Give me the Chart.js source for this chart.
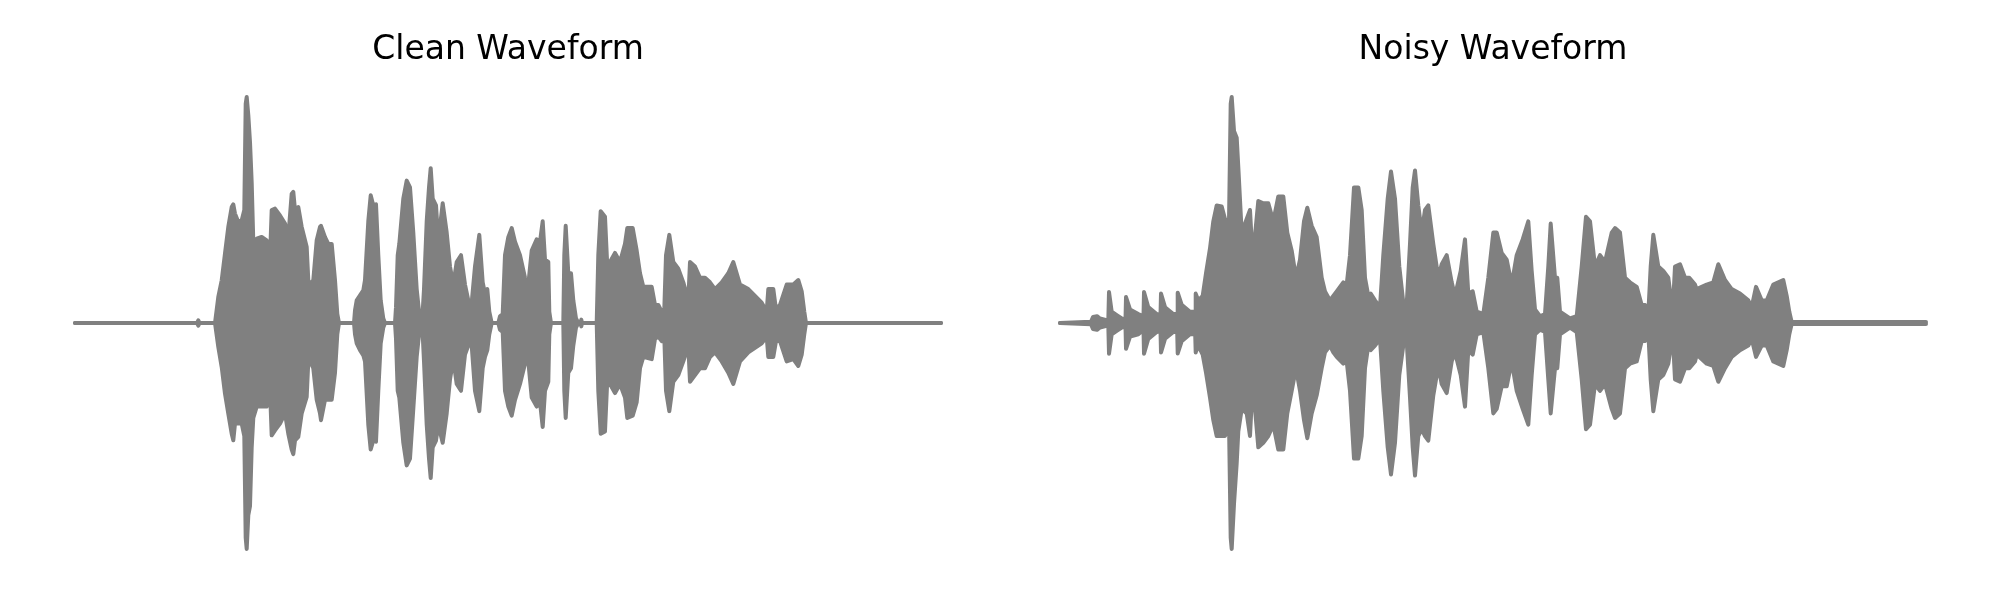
<!DOCTYPE html>
<html>
<head>
<meta charset="utf-8">
<title>Clean vs Noisy Waveform</title>
<script src="https://cdn.jsdelivr.net/npm/chart.js@4.4.1/dist/chart.umd.min.js"></script>
<style>
  html, body { margin: 0; padding: 0; background: #fff; }
  #wrap { position: relative; width: 2000px; height: 600px; }
  canvas { position: absolute; top: 0; }
  #clean { left: 0; }
  #noisy { left: 1000px; }
</style>
</head>
<body>
<div id="wrap">
  <canvas id="clean" width="1000" height="600"></canvas>
  <canvas id="noisy" width="1000" height="600"></canvas>
</div>
<script>
// Waveform envelopes: frame index, upper and lower amplitude (normalised)
const WAVE_GRAY = '#808080';
const FRAME_MAX = 866;

const cleanT = [
  0, 122, 123.3, 124.5, 140, 143.3, 146.7, 150, 153.3, 156.7,
  158.3, 160, 163.3, 166.7, 169.3, 170.7, 171.7, 173.3, 175, 176.7,
  178.3, 181.7, 186.7, 191.7, 194.3, 196.7, 200, 205, 210, 213.3,
  216.7, 218.3, 220, 223.3, 226.7, 231.7, 233.3, 235, 238.3, 241.7,
  245, 246, 250, 253.3, 256.7, 260, 262.3, 264, 279, 280,
  281.7, 285, 288.3, 290, 293.3, 295.7, 298.3, 301, 303.3, 305.7,
  308.3, 310, 320, 321, 322.7, 324.3, 328.3, 331.7, 335, 338.3,
  341.7, 344.3, 345.7, 347.7, 349, 351.7, 354, 355.7, 357.7, 361,
  363.3, 367.7, 371.7, 375, 378.3, 381.7, 386, 390, 393.3, 396.7,
  400, 404.3, 407.7, 410, 412.3, 414.3, 416.7, 423.3, 425, 427.7,
  430, 433.3, 436.7, 440, 445, 450, 453.3, 456.7, 461.7, 465,
  467.7, 470, 473.3, 474.3, 476, 488.3, 489.3, 490.7, 493.3, 496,
  498.3, 501, 503.3, 505.5, 506.3, 507, 521.7, 523.3, 525.7, 530,
  532.3, 535, 540, 545, 550, 552.3, 557.7, 561.7, 565, 568.3,
  576.7, 580, 583.3, 586.7, 589, 591, 594.3, 598.3, 603.3, 608.3,
  613.3, 615, 620, 625, 630, 635, 640, 646.7, 653.3, 658.3,
  665, 673.3, 680, 686.7, 691.7, 693.3, 698.3, 701, 705, 711.7,
  718.3, 723.3, 726.7, 729.3, 731, 866
];
const cleanUpper = [
  0, 0, 0.012, 0, 0, 0.115, 0.189, 0.307, 0.425, 0.513,
  0.525, 0.484, 0.447, 0.454, 0.5, 0.97, 1.0, 0.92, 0.8, 0.62,
  0.36, 0.373, 0.381, 0.366, 0.204, 0.5, 0.506, 0.476, 0.44, 0.38,
  0.572, 0.58, 0.5, 0.513, 0.425, 0.336, 0.19, 0.17, 0.19, 0.366,
  0.425, 0.43, 0.38, 0.35, 0.35, 0.19, 0.04, 0, 0, 0.056,
  0.1, 0.122, 0.145, 0.19, 0.45, 0.565, 0.52, 0.525, 0.3, 0.1,
  0.02, 0, 0, 0.07, 0.3, 0.35, 0.55, 0.63, 0.6, 0.4,
  0.15, 0.04, 0, 0.05, 0.15, 0.45, 0.6, 0.685, 0.55, 0.52,
  0.36, 0.53, 0.4, 0.25, 0.17, 0.27, 0.3, 0.17, 0.1, 0.09,
  0.25, 0.39, 0.18, 0.13, 0.15, 0.05, 0, 0, 0.03, 0.04,
  0.3, 0.38, 0.42, 0.36, 0.3, 0.2, 0.17, 0.32, 0.37, 0.36,
  0.45, 0.28, 0.27, 0.05, 0, 0, 0.3, 0.43, 0.22, 0.22,
  0.1, 0.02, 0, 0, 0.015, 0, 0, 0.3, 0.495, 0.47,
  0.25, 0.27, 0.31, 0.27, 0.35, 0.42, 0.42, 0.32, 0.22, 0.16,
  0.16, 0.08, 0.08, 0.05, 0.02, 0.3, 0.39, 0.27, 0.24, 0.18,
  0.1, 0.27, 0.25, 0.2, 0.2, 0.18, 0.15, 0.18, 0.22, 0.27,
  0.17, 0.15, 0.12, 0.09, 0.05, 0.15, 0.15, 0.06, 0.08, 0.17,
  0.17, 0.19, 0.14, 0.05, 0, 0
];
const cleanLower = [
  0, 0, -0.012, 0, 0, -0.106, -0.195, -0.313, -0.401, -0.49,
  -0.519, -0.445, -0.445, -0.445, -0.5, -0.95, -1.0, -0.85, -0.81, -0.55,
  -0.42, -0.37, -0.37, -0.37, -0.21, -0.497, -0.475, -0.445, -0.4, -0.49,
  -0.56, -0.58, -0.52, -0.504, -0.4, -0.327, -0.17, -0.17, -0.2, -0.34,
  -0.4, -0.43, -0.34, -0.34, -0.34, -0.22, -0.05, 0, 0, -0.05,
  -0.09, -0.12, -0.143, -0.17, -0.45, -0.56, -0.52, -0.525, -0.3, -0.09,
  -0.02, 0, 0, -0.07, -0.3, -0.33, -0.53, -0.63, -0.6, -0.38,
  -0.15, -0.04, 0, -0.05, -0.17, -0.45, -0.6, -0.686, -0.55, -0.52,
  -0.45, -0.53, -0.4, -0.25, -0.16, -0.27, -0.3, -0.14, -0.1, -0.1,
  -0.3, -0.39, -0.2, -0.15, -0.12, -0.05, 0, 0, -0.03, -0.04,
  -0.3, -0.37, -0.41, -0.34, -0.27, -0.18, -0.17, -0.33, -0.37, -0.35,
  -0.46, -0.3, -0.26, -0.05, 0, 0, -0.3, -0.42, -0.22, -0.2,
  -0.1, -0.02, 0, 0, -0.015, 0, 0, -0.3, -0.49, -0.48,
  -0.25, -0.27, -0.31, -0.27, -0.33, -0.42, -0.41, -0.35, -0.2, -0.15,
  -0.16, -0.07, -0.06, -0.08, -0.02, -0.3, -0.39, -0.26, -0.23, -0.17,
  -0.1, -0.26, -0.23, -0.2, -0.2, -0.15, -0.13, -0.17, -0.22, -0.27,
  -0.17, -0.13, -0.11, -0.09, -0.06, -0.15, -0.15, -0.08, -0.08, -0.17,
  -0.16, -0.19, -0.14, -0.05, 0, 0
];

const noisyT = [
  0, 31, 33, 37, 40, 48.3, 49, 51.7, 56.7, 61.7,
  65.5, 66, 70, 78.3, 83.5, 84, 88.3, 96.7, 100.5, 101,
  105, 113.3, 117.2, 117.7, 121.7, 130, 135.2, 135.7, 138.3, 142.7,
  146, 150, 153.3, 156.7, 161.7, 165, 169, 170.7, 171.7, 174,
  176.7, 178.3, 181.7, 186.7, 190, 192.7, 198.3, 203.3, 208.3, 213.3,
  218.3, 223.3, 227.3, 231.7, 236, 240, 244, 247.3, 251.7, 256.7,
  261.7, 265, 270, 273.3, 276.7, 283.3, 286.7, 290, 294, 298.3,
  301.7, 305, 308.3, 310.7, 315, 320, 323.3, 327.7, 331, 335,
  339.3, 343.3, 346.7, 350, 352.7, 355, 358.3, 361.7, 365, 368.3,
  373.3, 378.3, 381.7, 386.7, 391.7, 395, 400.7, 405, 408.3, 412.7,
  416.7, 423.3, 428.3, 433.3, 436.7, 441.7, 446.7, 451.7, 456.7, 462.7,
  468.3, 471.7, 475, 480, 485, 488.3, 490.7, 495, 497.3, 500,
  510, 516.7, 521.7, 526, 530, 535, 540, 545, 551.7, 555,
  560, 565, 570, 576.7, 581.7, 585, 588.3, 590.7, 593.3, 598.3,
  603.3, 608.3, 612.7, 615, 620, 625, 629.3, 635, 636.7, 646.7,
  653.3, 658.3, 665, 671.7, 680, 688.3, 691.7, 696, 701.7, 706.7,
  713.3, 723.3, 726.7, 729.3, 731.7, 866
];
const noisyUpper = [
  0, 0.005, 0.027, 0.03, 0.02, 0.01, 0.137, 0.05, 0.035, 0.02,
  0.015, 0.115, 0.06, 0.04, 0.03, 0.137, 0.07, 0.04, 0.035, 0.13,
  0.07, 0.04, 0.04, 0.134, 0.08, 0.05, 0.05, 0.13, 0.1, 0.12,
  0.22, 0.33, 0.45, 0.52, 0.516, 0.46, 0.45, 0.97, 1.0, 0.85,
  0.82, 0.69, 0.4, 0.46, 0.5, 0.28, 0.54, 0.53, 0.53, 0.45,
  0.56, 0.56, 0.4, 0.32, 0.2, 0.28, 0.45, 0.51, 0.43, 0.38,
  0.2, 0.14, 0.1, 0.12, 0.14, 0.18, 0.17, 0.3, 0.6, 0.6,
  0.5, 0.2, 0.12, 0.13, 0.1, 0.07, 0.3, 0.55, 0.67, 0.55,
  0.25, 0.09, 0.08, 0.35, 0.6, 0.675, 0.52, 0.4, 0.5, 0.52,
  0.35, 0.2, 0.26, 0.3, 0.18, 0.12, 0.23, 0.37, 0.13, 0.14,
  0.05, 0.04, 0.2, 0.4, 0.4, 0.31, 0.28, 0.17, 0.3, 0.37,
  0.45, 0.23, 0.06, 0.03, 0.04, 0.25, 0.44, 0.2, 0.2, 0.05,
  0.02, 0.03, 0.25, 0.47, 0.45, 0.25, 0.3, 0.27, 0.4, 0.42,
  0.4, 0.2, 0.18, 0.16, 0.08, 0.08, 0.04, 0.25, 0.39, 0.25,
  0.23, 0.2, 0.05, 0.25, 0.26, 0.2, 0.2, 0.17, 0.15, 0.17,
  0.18, 0.26, 0.19, 0.15, 0.13, 0.1, 0.07, 0.16, 0.1, 0.1,
  0.17, 0.19, 0.12, 0.05, 0.004, 0.004
];
const noisyLower = [
  0, -0.005, -0.027, -0.03, -0.02, -0.01, -0.136, -0.05, -0.035, -0.02,
  -0.015, -0.114, -0.06, -0.05, -0.03, -0.136, -0.07, -0.04, -0.035, -0.13,
  -0.07, -0.04, -0.04, -0.135, -0.08, -0.05, -0.05, -0.13, -0.1, -0.14,
  -0.22, -0.33, -0.43, -0.5, -0.5, -0.5, -0.44, -0.95, -1.0, -0.8,
  -0.62, -0.48, -0.38, -0.4, -0.5, -0.26, -0.55, -0.53, -0.5, -0.45,
  -0.56, -0.56, -0.4, -0.3, -0.2, -0.3, -0.43, -0.51, -0.4, -0.32,
  -0.2, -0.13, -0.1, -0.13, -0.15, -0.18, -0.17, -0.3, -0.6, -0.6,
  -0.5, -0.2, -0.1, -0.12, -0.1, -0.07, -0.3, -0.55, -0.67, -0.53,
  -0.23, -0.1, -0.08, -0.33, -0.55, -0.675, -0.5, -0.47, -0.5, -0.52,
  -0.32, -0.19, -0.27, -0.31, -0.17, -0.13, -0.23, -0.37, -0.12, -0.14,
  -0.05, -0.04, -0.2, -0.4, -0.38, -0.28, -0.28, -0.17, -0.3, -0.38,
  -0.45, -0.23, -0.05, -0.03, -0.04, -0.25, -0.4, -0.2, -0.2, -0.05,
  -0.02, -0.04, -0.25, -0.47, -0.45, -0.27, -0.3, -0.27, -0.38, -0.42,
  -0.4, -0.2, -0.18, -0.17, -0.08, -0.08, -0.04, -0.25, -0.39, -0.25,
  -0.23, -0.18, -0.05, -0.25, -0.26, -0.2, -0.2, -0.17, -0.14, -0.18,
  -0.19, -0.26, -0.2, -0.15, -0.12, -0.1, -0.07, -0.15, -0.1, -0.1,
  -0.17, -0.19, -0.12, -0.05, -0.004, -0.004
];

// one panel = upper and lower edge lines, each filled to the zero line
function drawWave(id, title, t, upper, lower, padLeft, padRight) {
    const pts = ys => t.map((x, i) => ({ x: x, y: ys[i] }));
    const edge = {
        borderColor: WAVE_GRAY,
        backgroundColor: WAVE_GRAY,
        borderWidth: 4,
        pointRadius: 0,
        tension: 0,
        borderJoinStyle: 'round',
        borderCapStyle: 'round',
        fill: 'origin',
        clip: false
    };
    return new Chart(document.getElementById(id), {
        type: 'line',
        data: {
            datasets: [
                { ...edge, data: pts(upper) },
                { ...edge, data: pts(lower) }
            ]
        },
        options: {
            responsive: false,
            animation: false,
            events: [],
            layout: { padding: { left: padLeft, right: padRight, top: 0, bottom: 51 } },
            scales: {
                x: { type: 'linear', display: false, min: 0, max: FRAME_MAX },
                y: { display: false, min: -1, max: 1 }
            },
            plugins: {
                legend: { display: false },
                tooltip: { enabled: false },
                title: {
                    display: true,
                    text: title,
                    color: '#000',
                    font: { family: 'DejaVu Sans', size: 33, weight: 'normal' },
                    padding: { top: 31, bottom: 26.4 }
                }
            }
        }
    });
}

drawWave('clean', 'Clean Waveform', cleanT, cleanUpper, cleanLower, 75, 59);
drawWave('noisy', 'Noisy Waveform', noisyT, noisyUpper, noisyLower, 60, 74);
</script>
</body>
</html>
